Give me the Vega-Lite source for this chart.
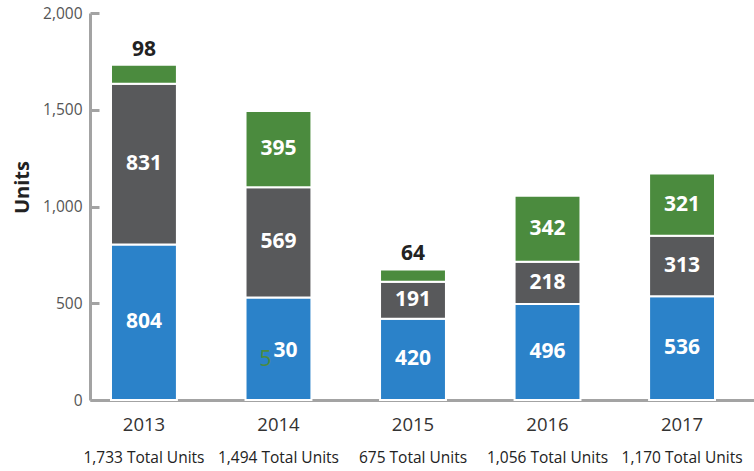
{
  "$schema": "https://vega.github.io/schema/vega-lite/v6.json",
  "width": 664,
  "height": 387,
  "autosize": {"type": "none"},
  "padding": {"left": 90, "top": 13, "right": 0, "bottom": 71},
  "config": {
    "view": {"stroke": null},
    "font": "Open Sans",
    "axisY": {
      "grid": false,
      "domainColor": "#a3a3a3",
      "domainWidth": 3,
      "tickColor": "#a3a3a3",
      "tickWidth": 3,
      "tickSize": -9,
      "labelPadding": 17,
      "labelFontSize": 15.5,
      "labelColor": "#555555",
      "titleFontSize": 20,
      "titleFontWeight": "bold",
      "titleColor": "#222222",
      "titlePadding": 10,
      "titleY": 174
    }
  },
  "data": {
    "values": [
      {"Year": "2013", "Segment": "A", "order": 1, "Units": 804},
      {"Year": "2013", "Segment": "B", "order": 2, "Units": 831},
      {"Year": "2013", "Segment": "C", "order": 3, "Units": 98},
      {"Year": "2014", "Segment": "A", "order": 1, "Units": 530},
      {"Year": "2014", "Segment": "B", "order": 2, "Units": 569},
      {"Year": "2014", "Segment": "C", "order": 3, "Units": 395},
      {"Year": "2015", "Segment": "A", "order": 1, "Units": 420},
      {"Year": "2015", "Segment": "B", "order": 2, "Units": 191},
      {"Year": "2015", "Segment": "C", "order": 3, "Units": 64},
      {"Year": "2016", "Segment": "A", "order": 1, "Units": 496},
      {"Year": "2016", "Segment": "B", "order": 2, "Units": 218},
      {"Year": "2016", "Segment": "C", "order": 3, "Units": 342},
      {"Year": "2017", "Segment": "A", "order": 1, "Units": 536},
      {"Year": "2017", "Segment": "B", "order": 2, "Units": 313},
      {"Year": "2017", "Segment": "C", "order": 3, "Units": 321}
    ]
  },
  "transform": [
    {"stack": "Units", "groupby": ["Year"], "sort": [{"field": "order"}], "as": ["y0", "y1"]},
    {"calculate": "(datum.y0 + datum.y1) / 2", "as": "ymid"}
  ],
  "encoding": {
    "x": {
      "field": "Year",
      "type": "ordinal",
      "scale": {"paddingInner": 0.51, "paddingOuter": 0.223, "align": 0.35},
      "axis": {
        "title": null,
        "labelAngle": 0,
        "ticks": false,
        "domainColor": "#a3a3a3",
        "domainWidth": 3,
        "labelFontSize": 18.5,
        "labelColor": "#333333",
        "labelPadding": 15
      }
    }
  },
  "layer": [
    {
      "mark": {"type": "bar", "stroke": "white", "strokeWidth": 2},
      "encoding": {
        "y": {
          "field": "y0",
          "type": "quantitative",
          "title": "Units",
          "scale": {"domain": [0, 2000]},
          "axis": {"values": [0, 500, 1000, 1500, 2000], "format": ",d"}
        },
        "y2": {"field": "y1"},
        "color": {
          "field": "Segment",
          "type": "nominal",
          "scale": {"domain": ["A", "B", "C"], "range": ["#2B82C9", "#58595B", "#4B8B3E"]},
          "legend": null
        }
      }
    },
    {
      "transform": [{"filter": "datum.Units >= 150 && !(datum.Year == '2014' && datum.Segment == 'A')"}],
      "mark": {"type": "text", "fontSize": 21, "fontWeight": "bold", "color": "white", "baseline": "middle"},
      "encoding": {
        "y": {"field": "ymid", "type": "quantitative", "title": "Units", "axis": {"values": [0, 500, 1000, 1500, 2000], "format": ",d"}},
        "text": {"field": "Units", "type": "quantitative"}
      }
    },
    {
      "transform": [{"filter": "datum.Year == '2014' && datum.Segment == 'A'"}],
      "mark": {"type": "text", "fontSize": 21, "fontWeight": "bold", "color": "white", "baseline": "middle", "text": "30", "dx": 7, "dy": 2},
      "encoding": {
        "y": {"field": "ymid", "type": "quantitative", "title": "Units", "axis": {"values": [0, 500, 1000, 1500, 2000], "format": ",d"}}
      }
    },
    {
      "transform": [{"filter": "datum.Year == '2014' && datum.Segment == 'A'"}],
      "mark": {"type": "text", "fontSize": 21, "color": "#4B8B3E", "baseline": "middle", "text": "5", "dx": -13, "dy": 11},
      "encoding": {
        "y": {"field": "ymid", "type": "quantitative", "title": "Units", "axis": {"values": [0, 500, 1000, 1500, 2000], "format": ",d"}}
      }
    },
    {
      "transform": [{"filter": "datum.Units < 150"}],
      "mark": {"type": "text", "fontSize": 21, "fontWeight": "bold", "color": "#222222", "baseline": "alphabetic", "dy": -9},
      "encoding": {
        "y": {"field": "y1", "type": "quantitative", "title": "Units", "axis": {"values": [0, 500, 1000, 1500, 2000], "format": ",d"}},
        "text": {"field": "Units", "type": "quantitative"}
      }
    },
    {
      "transform": [
        {"aggregate": [{"op": "sum", "field": "Units", "as": "total"}], "groupby": ["Year"]},
        {"calculate": "format(datum.total, ',') + ' Total Units'", "as": "tlabel"}
      ],
      "mark": {"type": "text", "fontSize": 15.5, "color": "#222222", "baseline": "middle", "dy": 58},
      "encoding": {
        "y": {"datum": 0, "type": "quantitative", "title": "Units", "axis": {"values": [0, 500, 1000, 1500, 2000], "format": ",d"}},
        "text": {"field": "tlabel"}
      }
    }
  ]
}
